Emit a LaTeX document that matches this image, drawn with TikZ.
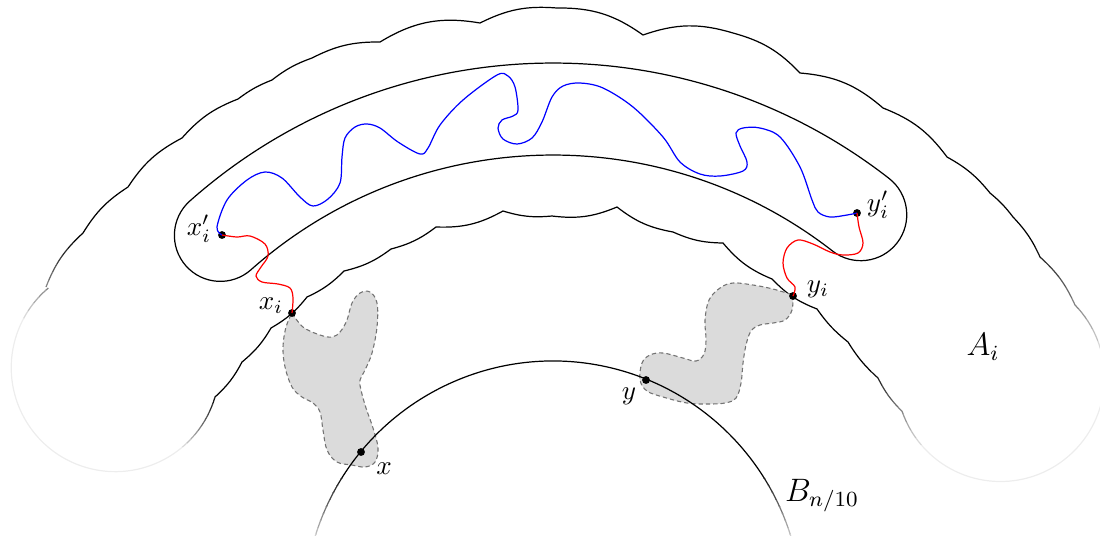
\documentclass[tikz,border=0pt]{standalone}
\usetikzlibrary{calc}
\begin{document}
\begin{tikzpicture}[x=0.37pt, y=-0.37pt, line width=0.45pt,
  dot/.style={circle, fill=black, inner sep=0pt, minimum size=2.9pt},
  blob/.style={fill=black!14, draw=black!55, dash pattern=on 1.6pt off 1.1pt, line width=0.4pt},
  lbl/.style={inner sep=0pt}]
\useasboundingbox (0,0) rectangle (1100,535);
\coordinate (O) at (553,610);
\coordinate (Cs) at (466,677);
\def\Apath{(46,287) to[bend left=12.9] (83,233) to[bend left=12.6] (128,187) to[bend left=14.4] (182,138) to[bend left=13.4] (238,99) to[bend left=7.6] (272,80) to[bend left=8.9] (312,58) to[bend left=13.7] (380,42) to[bend left=20.5] (480,23) to[bend left=15.5] (557,8) to[bend left=18] (643,35) to[bend left=17.9] (733,33) to[bend left=15.4] (800,73) to[bend left=18] (883,108) to[bend left=16] (947,157) to[bend left=10.9] (990,193) to[bend left=6.4] (1013,217) to[bend left=9.4] (1040,257) to[bend left=11.6] (1075,305) arc[start angle=-44.2, end angle=161, radius=104] to[bend left=9.1] (878,378) to[bend left=8] (848,342) to[bend left=8] (817,309) to[bend left=12.1] (772,279) to[bend left=13.6] (723,243) to[bend left=11.4] (673,232) to[bend left=13.7] (617,207) to[bend left=14.7] (552,216) to[bend left=11] (503,211) to[bend left=15.4] (436,227) to[bend left=11.1] (391,249) to[bend left=11.5] (344,271) to[bend left=10.1] (307,297) to[bend left=10.6] (271,328) to[bend left=9.9] (242,362) to[bend left=9.8] (215,397) arc[start angle=16.4, end angle=230, radius=104]}
\def\Bpath{($(O)+(-163:249)$) arc[start angle=-163, end angle=-17, radius=249]}
% region A_i, with faded ends
\begin{scope}
  \clip (Cs) -- ($(Cs)+(-132:3000)$) -- ($(Cs)+(-37:3000)$) -- cycle;
  \draw \Apath;
\end{scope}
\foreach \k in {0,...,9}{
  \pgfmathsetmacro\aA{-132-0.9*\k}
  \pgfmathsetmacro\aB{-132-0.9*(\k+1)}
  \pgfmathsetmacro\bA{-37+\k}
  \pgfmathsetmacro\bB{-36+\k}
  \pgfmathtruncatemacro\cc{92-8.5*\k}
  \begin{scope}
    \clip (Cs) -- ($(Cs)+(\aA:3000)$) -- ($(Cs)+(\aB:3000)$) -- cycle;
    \draw[black!\cc] \Apath;
  \end{scope}
  \begin{scope}
    \clip (Cs) -- ($(Cs)+(\bA:3000)$) -- ($(Cs)+(\bB:3000)$) -- cycle;
    \draw[black!\cc] \Apath;
  \end{scope}
}
\begin{scope}
  \clip (Cs) -- ($(Cs)+(-141:3000)$) -- ($(Cs)+(-185:3000)$) -- cycle;
  \draw[black!7] \Apath;
\end{scope}
\begin{scope}
  \clip (Cs) -- ($(Cs)+(-27:3000)$) -- ($(Cs)+(10:3000)$) -- cycle;
  \draw[black!7] \Apath;
\end{scope}
% grey clusters
\path[blob] plot[smooth, tension=0.6] coordinates {(292,313) (303,327) (320,335) (332,337) (340,332) (347,320) (352,303) (360,293) (370,292) (377,303) (377,327) (372,353) (365,370) (360,380) (361,390) (366,408) (373,428) (378,448) (375,462) (365,467) (352,465) (337,462) (327,450) (323,430) (320,412) (313,403) (302,397) (292,387) (285,367) (283,347) (286,327) (292,313)};
\path[blob] plot[smooth, tension=0.6] coordinates {(793,295) (792,310) (785,320) (773,323) (760,325) (751,331) (746,345) (743,363) (741,383) (736,398) (725,403) (707,404) (687,403) (663,397) (647,391) (640,380) (642,363) (650,355) (663,353) (683,358) (696,361) (704,354) (706,340) (705,320) (709,300) (720,288) (733,283) (753,285) (773,289) (793,295)};
% ball B_{n/10}, faded at the bottom
\begin{scope}
  \clip (0,0) rectangle (1100,478);
  \draw \Bpath;
\end{scope}
\foreach \k in {0,...,8}{
  \pgfmathsetmacro\yA{478+7*\k}
  \pgfmathsetmacro\yB{478+7*(\k+1)}
  \pgfmathtruncatemacro\cc{90-9*\k}
  \begin{scope}
    \clip (0,\yA) rectangle (1100,\yB);
    \draw[black!\cc] \Bpath;
  \end{scope}
}
% tube
\draw ($(O)+(-131.6:547)$) arc[start angle=-131.6, end angle=-52.1, radius=547]
  arc[start angle=-52.1, end angle=127.9, radius=46]
  arc[start angle=-52.1, end angle=-131.6, radius=455]
  arc[start angle=48.4, end angle=228.4, radius=46] -- cycle;
% points
\node[dot] (xpi) at (222,235) {};
\node[dot] (xi) at (292,313) {};
\node[dot] (ypi) at (857,213) {};
\node[dot] (yi) at (793,296) {};
\node[dot] (x) at (361,452) {};
\node[dot] (y) at (646,380) {};
% paths
\draw[blue] plot[smooth, tension=0.55] coordinates {(xpi.center) (217,227) (227,200) (247,180) (265,172) (282,178) (300,197) (313,206) (328,199) (340,183) (342,157) (345,138) (355,127) (367,124) (380,128) (398,142) (420,154) (428,148) (440,125) (463,100) (497,75) (508,76) (515,87) (518,110) (513,116) (502,120) (498,128) (503,139) (517,144) (532,138) (542,122) (552,97) (563,86) (580,83) (603,88) (633,107) (663,137) (680,162) (700,174) (720,176) (743,171) (747,162) (740,146) (736,133) (743,128) (760,128) (780,137) (800,167) (812,200) (818,212) (830,217) (847,215) (ypi.center)};
\draw[red] plot[smooth, tension=0.55] coordinates {(xpi.center) (237,237) (250,236) (265,244) (268,256) (261,267) (256,276) (262,282) (278,284) (290,288) (293,298) (xi.center)};
\draw[red] plot[smooth, tension=0.55] coordinates {(ypi.center) (859,227) (863,243) (858,253) (843,255) (830,252) (813,244) (798,240) (787,248) (783,263) (787,278) (795,287) (yi.center)};
% labels
\node[lbl] (lxpi) at (199,229) {$x_i'$};
\node[lbl] (lxi) at (271,306) {$x_i$};
\node[lbl] (lypi) at (878,205) {$y_i'$};
\node[lbl] (lyi) at (818,289) {$y_i$};
\node[lbl] (lx) at (384,469) {$x$};
\node[lbl] (ly) at (629,396) {$y$};
\node[lbl] (lA) at (983,347) {\large $A_i$};
\node[lbl] (lB) at (822,496) {\large $B_{n/10}$};
\end{tikzpicture}
\end{document}
